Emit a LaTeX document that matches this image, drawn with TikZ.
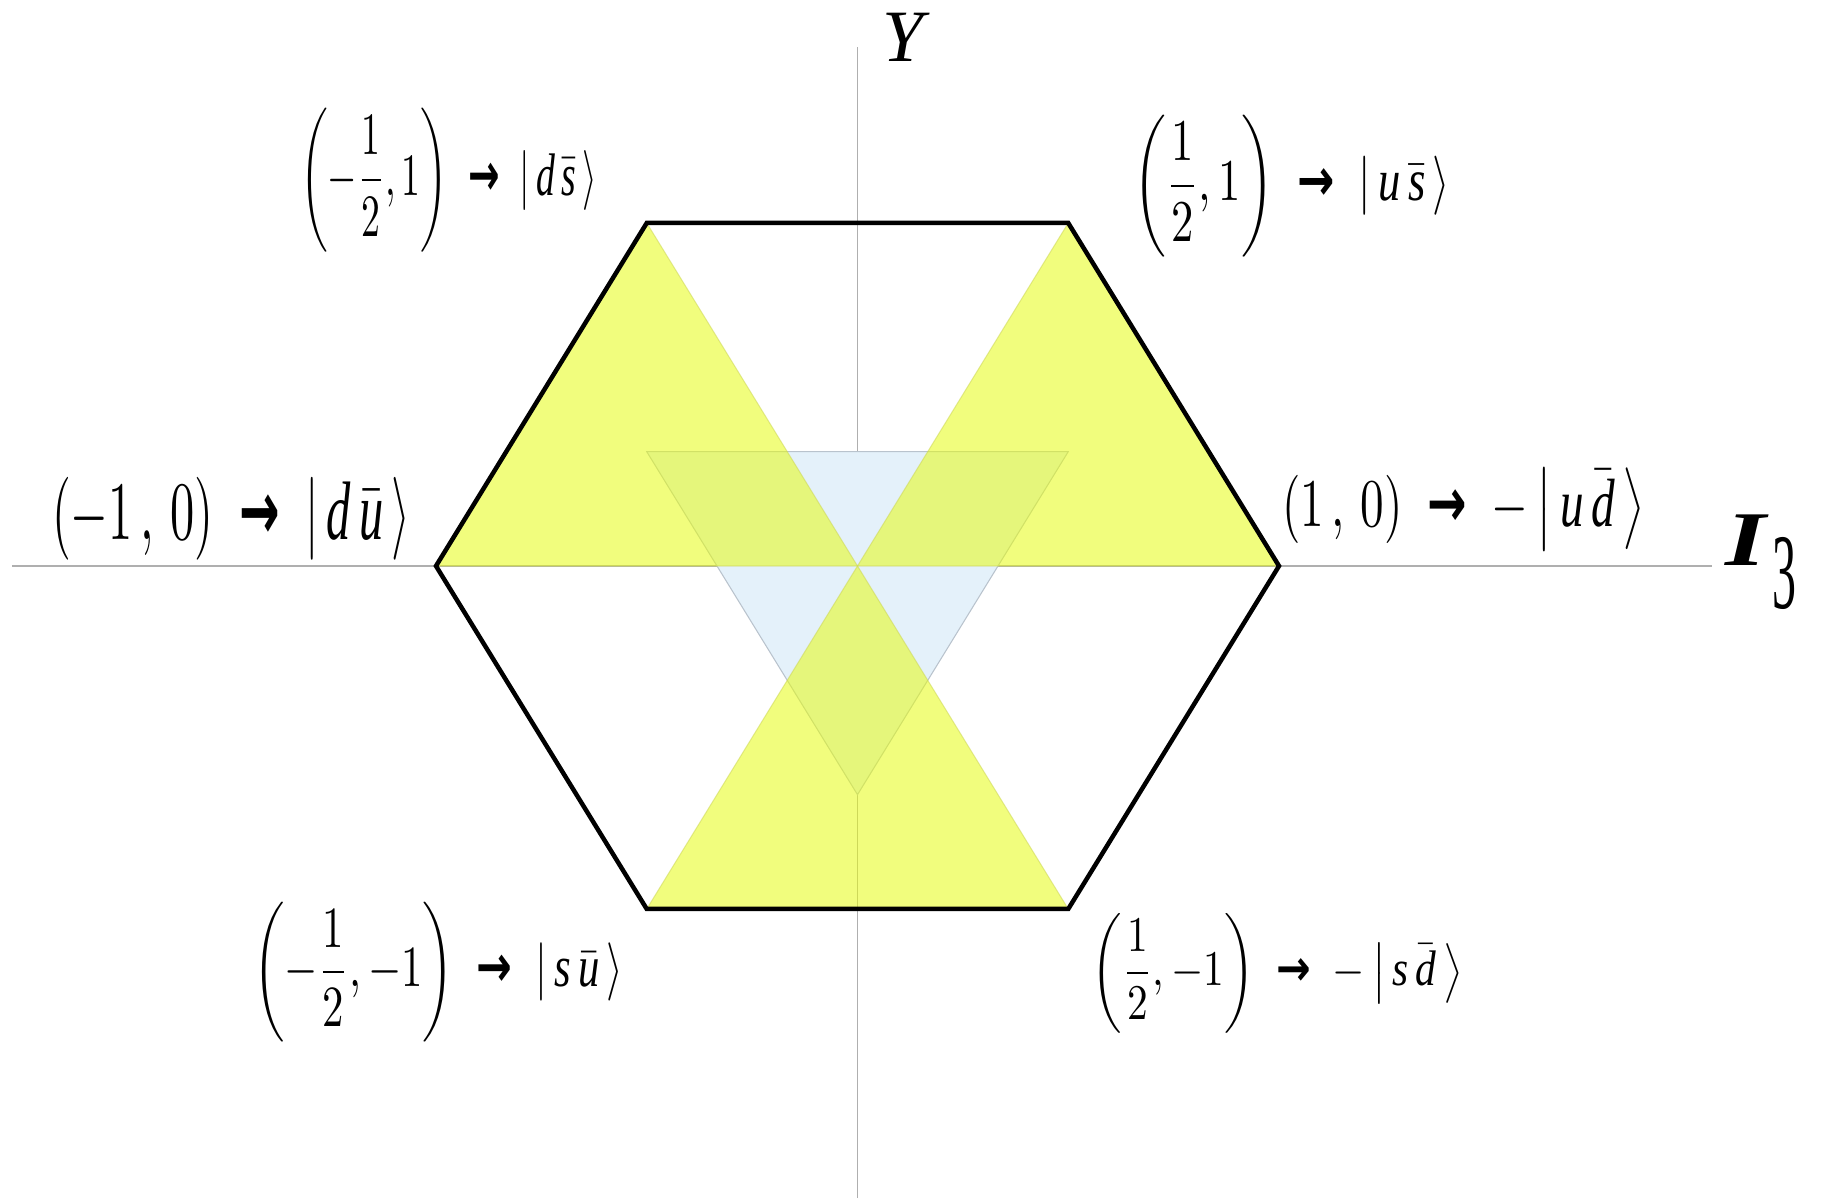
\documentclass[tikz,border=0pt]{standalone}
\usepackage{amsmath}
\usepackage{fontspec}
\setmainfont{Liberation Serif}
\newfontfamily\arrowfont{DejaVu Sans}
\usepackage{graphicx}
\definecolor{axisgray}{RGB}{175,175,175}
\definecolor{sectoryellow}{RGB}{230,251,19}
\definecolor{sectoredge}{RGB}{205,215,90}
\definecolor{antiblue}{RGB}{228,241,250}
\definecolor{antiedge}{RGB}{185,195,205}
\newcommand{\maparrow}{\mathrel{\text{\arrowfont\bfseries →}}}
\begin{document}
\begin{tikzpicture}[x=4.215cm,y=3.43cm,
    axis/.style={draw=axisgray,line width=0.43pt},
    antitri/.style={fill=antiblue,draw=antiedge,line width=0.3pt},
    sector/.style={fill=sectoryellow,draw=sectoredge,line width=0.3pt,opacity=0.55},
    hexline/.style={line width=1.28pt},
    lbl/.style={inner sep=0pt,anchor=center}]
  \useasboundingbox (-2.0344,-1.8426) rectangle (2.2954,1.6501);
  % axes
  \coordinate (xl) at (-2.006,0);
  \coordinate (xr) at (2.027,0);
  \coordinate (yb) at (0,-1.8426);
  \coordinate (yt) at (0,1.513);
  \draw[axis] (xl) -- (xr);
  \draw[axis] (yb) -- (yt);
  % weights of the octet
  \coordinate (O) at (0,0);
  \coordinate (dsbar) at (-0.5,1);
  \coordinate (usbar) at (0.5,1);
  \coordinate (dubar) at (-1,0);
  \coordinate (udbar) at (1,0);
  \coordinate (subar) at (-0.5,-1);
  \coordinate (sdbar) at (0.5,-1);
  % antiquark triplet
  \coordinate (qa) at (-0.5,1/3);
  \coordinate (qb) at (0.5,1/3);
  \coordinate (qc) at (0,-2/3);
  \filldraw[antitri] (qa) -- (qb) -- (qc) -- cycle;
  % quark triangles
  \filldraw[sector] (dubar) -- (dsbar) -- (O) -- cycle;
  \filldraw[sector] (udbar) -- (usbar) -- (O) -- cycle;
  \filldraw[sector] (subar) -- (sdbar) -- (O) -- cycle;
  % hexagon
  \draw[hexline] (dsbar) -- (usbar) -- (udbar) -- (sdbar) -- (subar) -- (dubar) -- cycle;
  % axis labels
  \node[lbl] (ylab) at (0.116,1.541) {\fontsize{21}{21}\selectfont\textit{Y}};
  \node[lbl,anchor=base west] (ilab) at (2.058,0) {\scalebox{1.35}[1]{\fontsize{22}{22}\selectfont\textbf{\textit{I}}}\hspace{1pt}\raisebox{-12pt}{\scalebox{1.05}[2.35]{\fontsize{13}{13}\selectfont 3}}};
  % states
  \node[lbl] (lds) at (-0.970,1.125) {\resizebox*{84.5pt}{41pt}{$\left(-\dfrac{1}{2},1\right)\ \maparrow\ \left|\,\mathit{d}\,\bar{\mathit{s}}\,\right\rangle$}};
  \node[lbl] (lus) at (1.030,1.108) {\resizebox*{90.2pt}{40.4pt}{$\left(\dfrac{1}{2},1\right)\ \maparrow\ \left|\,\mathit{u}\,\bar{\mathit{s}}\,\right\rangle$}};
  \node[lbl] (ldu) at (-1.486,0.138) {\resizebox*{101.9pt}{23.6pt}{$\left(-1\,,\,0\right)\ \maparrow\ \left|\,\mathit{d}\,\bar{\mathit{u}}\,\right\rangle$}};
  \node[lbl] (lud) at (1.438,0.166) {\resizebox*{103.3pt}{23.3pt}{$\left(1\,,\,0\right)\ \maparrow\ -\left|\,\mathit{u}\,\bar{\mathit{d}}\,\right\rangle$}};
  \node[lbl] (lsu) at (-0.995,-1.184) {\resizebox*{105.3pt}{39.8pt}{$\left(-\dfrac{1}{2},-1\right)\ \maparrow\ \left|\,\mathit{s}\,\bar{\mathit{u}}\,\right\rangle$}};
  \node[lbl] (lsd) at (0.996,-1.187) {\resizebox*{105.6pt}{34.1pt}{$\left(\dfrac{1}{2},-1\right)\ \maparrow\ -\left|\,\mathit{s}\,\bar{\mathit{d}}\,\right\rangle$}};
\end{tikzpicture}
\end{document}
